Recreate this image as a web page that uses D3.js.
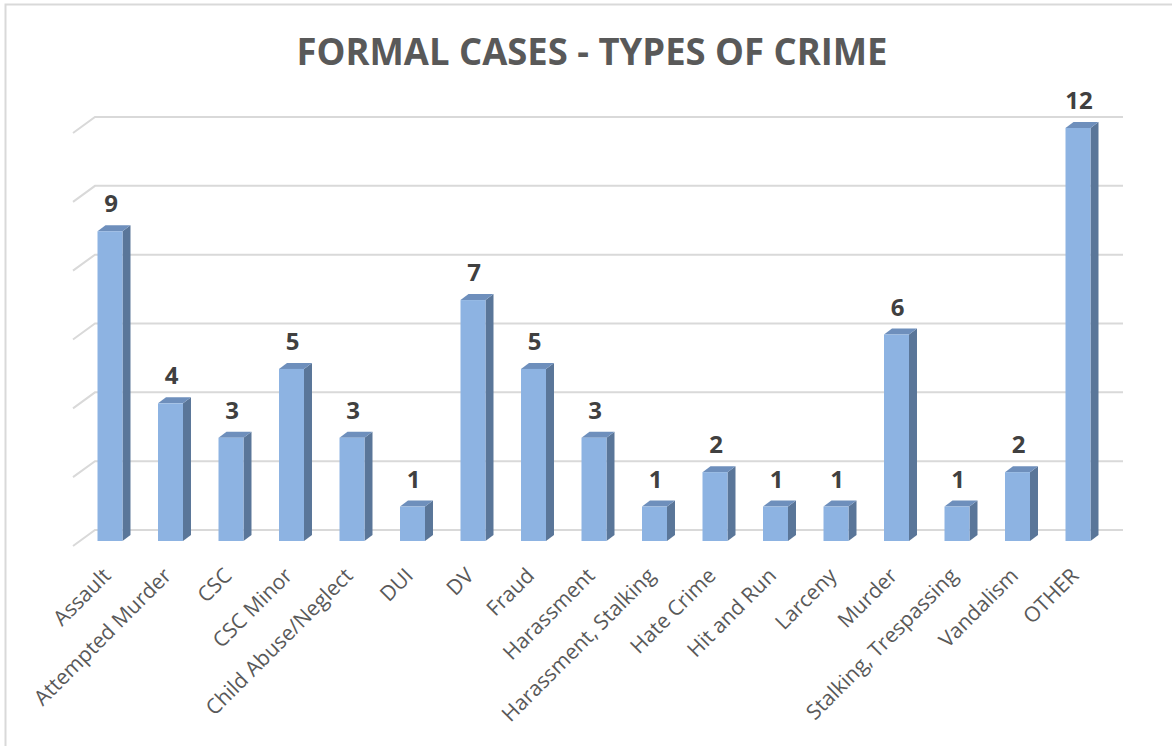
<!DOCTYPE html>
<html><head><meta charset="utf-8">
<script src="https://cdn.jsdelivr.net/npm/d3@7"></script>
<style>body{margin:0;background:#fff;} svg{display:block;}</style>
</head><body>
<svg id="chart" width="1172" height="746"></svg>
<script>
const categories = ["Assault","Attempted Murder","CSC","CSC Minor","Child Abuse/Neglect","DUI","DV","Fraud","Harassment","Harassment, Stalking","Hate Crime","Hit and Run","Larceny","Murder","Stalking, Trespassing","Vandalism","OTHER"];
const values = [9,4,3,5,3,1,7,5,3,1,2,1,1,6,1,2,12];
const yTicks = [0,2,4,6,8,10,12];
const title = "FORMAL CASES - TYPES OF CRIME";

const svg = d3.select("#chart");
const W = 1172, H = 746;

// chart border (top & left visible)
svg.append("path").attr("d", `M5.5,${H} V4.5 H${W}`).attr("fill","none").attr("stroke","#d9d9d9").attr("stroke-width",2);

const x = d3.scaleBand().domain(categories).range([79.75, 1108.25]).paddingInner(0.587).paddingOuter(0.2935);
const y = d3.scaleLinear().domain([0,12]).range([541,128]);

const wallDy = -11, wallX0 = 95, wallX1 = 1123;
const sideDx = -22, sideDy = 16;
const g = svg.append("g");
yTicks.forEach(t => {
  const yy = y(t) + wallDy;
  g.append("path")
    .attr("d", `M${wallX0+sideDx},${yy+sideDy} L${wallX0},${yy} H${wallX1}`)
    .attr("fill","none").attr("stroke","#d9d9d9").attr("stroke-width",2);
});

// 3D bars
const dx = 8, dy = -6;
const bars = svg.append("g");
categories.forEach((c,i) => {
  const v = values[i];
  const x0 = x(c), x1 = x0 + x.bandwidth();
  const yb = y(0), yt = y(v);
  bars.append("polygon").attr("points", `${x1},${yb} ${x1+dx},${yb+dy} ${x1+dx},${yt+dy} ${x1},${yt}`).attr("fill","#5a7699");
  bars.append("polygon").attr("points", `${x0},${yt} ${x0+dx},${yt+dy} ${x1+dx},${yt+dy} ${x1},${yt}`).attr("fill","#6e8fbc");
  bars.append("rect").attr("x",x0).attr("y",yt).attr("width",x.bandwidth()).attr("height",yb-yt).attr("fill","#8db3e2");
  bars.append("text").attr("x", x0 + x.bandwidth()/2 + 1).attr("y", yt - 19)
    .attr("text-anchor","middle").attr("font-family","'Open Sans', sans-serif").attr("font-weight","bold")
    .attr("font-size",24).attr("fill","#404040").text(v);
});

// category labels
const labels = svg.append("g");
categories.forEach(c => {
  const cx = x(c) + x.bandwidth()/2;
  labels.append("text")
    .attr("transform", `translate(${cx+2},${577}) rotate(-45)`)
    .attr("text-anchor","end").attr("font-family","'Open Sans', sans-serif")
    .attr("font-size",21).attr("fill","#595959").text(c);
});

// title
svg.append("text").attr("x", 592).attr("y", 65).attr("text-anchor","middle")
  .attr("font-family","'Open Sans', sans-serif").attr("font-weight","bold").attr("font-size",38)
  .attr("fill","#595959").attr("textLength",591).attr("lengthAdjust","spacingAndGlyphs").text(title);
</script>
</body></html>
